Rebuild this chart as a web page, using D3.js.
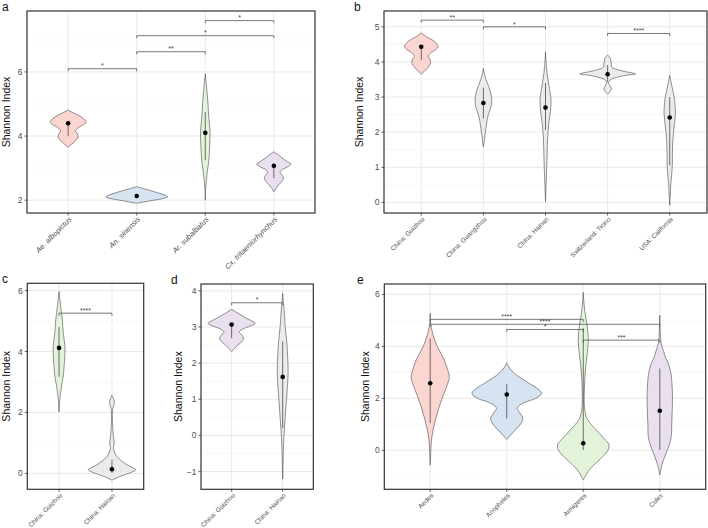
<!DOCTYPE html>
<html>
<head>
<meta charset="utf-8">
<script src="https://cdn.jsdelivr.net/npm/d3@7"></script>
<style>
  body { margin: 0; background: #fff; }
  svg { display: block; font-family: "Liberation Sans", Arial, sans-serif; }
</style>
</head>
<body>
<svg id="chart" width="708" height="528"></svg>
<script>
// ---- data ----
const PINK = "#fbd6d1", BLUE = "#d6e3f0", GREEN = "#e3f3da", PURPLE = "#e9dfee", GREY = "#ebebeb";

// panel a
const aGroups = ["Ae. albopictus", "An. sinensis", "Ar. subalbatus", "Cx. tritaeniorhynchus"];
const aMean = [4.40, 2.13, 4.10, 3.07];
const aLo = [4.00, 2.13, 3.25, 2.69];
const aHi = [4.40, 2.13, 4.75, 3.07];
const aViolins = [
  [[4.81,0],[4.72,0.08],[4.6,0.19],[4.5,0.245],[4.42,0.26],[4.35,0.22],[4.28,0.16],[4.17,0.11],[4.07,0.135],[3.98,0.146],[3.88,0.12],[3.78,0.07],[3.65,0]],
  [[2.42,0],[2.36,0.1],[2.3,0.2],[2.22,0.32],[2.15,0.42],[2.1,0.45],[2.05,0.38],[2.0,0.25],[1.95,0.12],[1.9,0]],
  [[5.94,0],[5.5,0.02],[5.0,0.04],[4.6,0.05],[4.2,0.068],[3.9,0.068],[3.5,0.06],[3.2,0.05],[2.9,0.03],[2.6,0.015],[2.3,0.005],[2.0,0]],
  [[3.51,0],[3.42,0.06],[3.3,0.13],[3.2,0.2],[3.12,0.25],[3.03,0.19],[2.94,0.11],[2.86,0.09],[2.78,0.12],[2.69,0.14],[2.6,0.12],[2.48,0.07],[2.37,0.03],[2.26,0]]
];
const aSig = [[0,1,6.1,"*"],[1,2,6.63,"**"],[1,3,7.13,"*"],[2,3,7.6,"*"]];
const aFill = [PINK, BLUE, GREEN, PURPLE];
const aTicks = [2, 4, 6];
const aMinor = [3, 5, 7];

// panel b
const bGroups = ["China: Guizhou", "China: Guangzhou", "China: Hainan", "Switzerland: Ticino", "USA: California"];
const bMean = [4.43, 2.83, 2.70, 3.65, 2.42];
const bLo = [4.05, 2.39, 2.06, 3.43, 1.06];
const bHi = [4.43, 3.27, 3.40, 3.91, 3.00];
const bViolins = [
  [[4.83,0],[4.72,0.08],[4.6,0.2],[4.5,0.255],[4.43,0.27],[4.35,0.23],[4.28,0.17],[4.17,0.11],[4.07,0.14],[3.97,0.15],[3.87,0.12],[3.77,0.07],[3.65,0]],
  [[3.82,0],[3.6,0.024],[3.4,0.064],[3.2,0.105],[3.0,0.129],[2.87,0.134],[2.7,0.12],[2.5,0.08],[2.3,0.056],[2.1,0.04],[1.9,0.024],[1.7,0.011],[1.58,0]],
  [[4.29,0],[4.0,0.008],[3.7,0.024],[3.4,0.048],[3.1,0.077],[2.9,0.089],[2.6,0.08],[2.3,0.056],[2.0,0.04],[1.6,0.029],[1.2,0.024],[0.8,0.016],[0.4,0.008],[0.02,0]],
  [[4.19,0],[4.14,0.035],[4.05,0.05],[3.95,0.06],[3.85,0.07],[3.78,0.16],[3.72,0.3],[3.66,0.45],[3.62,0.3],[3.56,0.14],[3.5,0.05],[3.44,0.02],[3.38,0.02],[3.3,0.045],[3.22,0.06],[3.14,0.03],[3.08,0]],
  [[3.62,0],[3.4,0.024],[3.2,0.048],[3.0,0.072],[2.7,0.089],[2.55,0.092],[2.3,0.08],[2.0,0.061],[1.7,0.048],[1.4,0.043],[1.1,0.043],[0.8,0.032],[0.5,0.016],[0.2,0.008],[-0.08,0]]
];
const bSig = [[0,1,5.19,"**"],[1,2,5.0,"*"],[3,4,4.81,"****"]];
const bFill = [PINK, GREY, GREY, GREY, GREY];
const bTicks = [0, 1, 2, 3, 4, 5];
const bMinor = [0.5, 1.5, 2.5, 3.5, 4.5];

// panel c
const cGroups = ["China: Guizhou", "China: Hainan"];
const cMean = [4.12, 0.14];
const cLo = [3.17, 0.02];
const cHi = [4.80, 0.45];
const cViolins = [
  [[5.97,0],[5.5,0.03],[5.0,0.065],[4.6,0.08],[4.2,0.11],[3.9,0.11],[3.5,0.095],[3.2,0.08],[2.9,0.05],[2.6,0.025],[2.3,0.008],[2.02,0]],
  [[2.57,0],[2.45,0.028],[2.32,0.046],[2.2,0.028],[2.05,0.009],[1.8,0.009],[1.5,0.015],[1.2,0.028],[1.0,0.042],[0.85,0.028],[0.7,0.047],[0.55,0.095],[0.4,0.19],[0.25,0.32],[0.12,0.45],[0.02,0.34],[-0.1,0.15],[-0.22,0]]
];
const cSig = [[0,1,5.26,"****"]];
const cFill = [GREEN, GREY];
const cTicks = [0, 2, 4, 6];
const cMinor = [1, 3, 5];

// panel d
const dGroups = ["China: Guizhou", "China: Hainan"];
const dMean = [3.07, 1.62];
const dLo = [2.69, 0.20];
const dHi = [3.07, 2.60];
const dViolins = [
  [[3.49,0],[3.4,0.1],[3.3,0.22],[3.2,0.35],[3.1,0.46],[3.02,0.35],[2.93,0.2],[2.86,0.15],[2.78,0.2],[2.69,0.235],[2.6,0.2],[2.5,0.12],[2.4,0.05],[2.32,0]],
  [[3.93,0],[3.6,0.02],[3.3,0.036],[3.0,0.05],[2.6,0.08],[2.2,0.097],[1.72,0.107],[1.3,0.09],[0.9,0.07],[0.5,0.05],[0.1,0.03],[-0.3,0.016],[-0.8,0.006],[-1.21,0]]
];
const dSig = [[0,1,3.67,"*"]];
const dFill = [PURPLE, GREY];
const dTicks = [-1, 0, 1, 2, 3, 4];
const dMinor = [-0.5, 0.5, 1.5, 2.5, 3.5];

// panel e
const eGroups = ["Aedes", "Anopheles", "Armigeres", "Culex"];
const eMean = [2.58, 2.15, 0.27, 1.52];
const eLo = [1.05, 1.23, 0.01, 0.01];
const eHi = [4.30, 2.54, 4.70, 3.15];
const eViolins = [
  [[5.27,0],[4.9,0.006],[4.5,0.032],[4.0,0.091],[3.5,0.18],[3.0,0.238],[2.8,0.25],[2.5,0.22],[2.0,0.156],[1.6,0.11],[1.2,0.071],[0.8,0.039],[0.4,0.016],[0.0,0.008],[-0.57,0]],
  [[3.37,0],[3.2,0.03],[2.96,0.1],[2.75,0.2],[2.58,0.29],[2.4,0.39],[2.19,0.455],[2.0,0.38],[1.85,0.24],[1.72,0.16],[1.61,0.136],[1.45,0.17],[1.23,0.21],[1.05,0.19],[0.9,0.15],[0.7,0.085],[0.55,0.04],[0.42,0]],
  [[6.08,0],[5.7,0.008],[5.3,0.023],[4.9,0.045],[4.5,0.062],[4.2,0.065],[3.8,0.055],[3.4,0.039],[3.0,0.026],[2.6,0.017],[2.2,0.013],[1.8,0.013],[1.5,0.023],[1.2,0.052],[0.95,0.117],[0.7,0.195],[0.45,0.273],[0.2,0.338],[-0.05,0.312],[-0.3,0.234],[-0.55,0.143],[-0.8,0.065],[-1.0,0.026],[-1.14,0]],
  [[5.2,0],[4.6,0.006],[4.1,0.019],[3.8,0.052],[3.6,0.071],[3.3,0.117],[2.9,0.149],[2.4,0.162],[2.0,0.166],[1.5,0.162],[1.0,0.156],[0.5,0.149],[0.2,0.123],[-0.1,0.084],[-0.4,0.045],[-0.7,0.016],[-0.95,0]]
];
const eSig = [[0,2,5.04,"****"],[0,3,4.85,"****"],[1,2,4.65,"*"],[2,3,4.24,"***"]];
const eFill = [PINK, BLUE, GREEN, PURPLE];
const eTicks = [0, 2, 4, 6];
const eMinor = [-1, 1, 3, 5];

const svg = d3.select("#chart");

function drawPanel(p) {
  const g = svg.append("g");
  const x = d3.scalePoint().domain(p.groups).range([p.left, p.right]).padding(0.6);
  const y = d3.scaleLinear().domain(p.ydom).range([p.bottom, p.top]);
  const step = x.step();

  // grid
  g.selectAll("line.minor").data(p.minor).join("line")
    .attr("x1", p.left).attr("x2", p.right)
    .attr("y1", d => y(d)).attr("y2", d => y(d))
    .attr("stroke", "#f3f3f3").attr("stroke-width", 0.6);
  g.selectAll("line.major").data(p.ticks).join("line")
    .attr("x1", p.left).attr("x2", p.right)
    .attr("y1", d => y(d)).attr("y2", d => y(d))
    .attr("stroke", "#e6e6e6").attr("stroke-width", 0.9);
  g.selectAll("line.vgrid").data(p.groups).join("line")
    .attr("x1", d => x(d)).attr("x2", d => x(d))
    .attr("y1", p.top).attr("y2", p.bottom)
    .attr("stroke", "#e6e6e6").attr("stroke-width", 0.9);

  // violins
  p.violins.forEach((prof, i) => {
    const cx = x(p.groups[i]);
    const area = d3.area()
      .curve(d3.curveCatmullRom.alpha(0.5))
      .y(d => y(d[0]))
      .x0(d => cx - d[1] * step)
      .x1(d => cx + d[1] * step);
    g.append("path").datum(prof)
      .attr("d", area)
      .attr("fill", p.fill[i])
      .attr("stroke", "#3a3a3a").attr("stroke-width", 0.55);
  });

  // mean point + range line
  p.groups.forEach((name, i) => {
    const cx = x(name);
    g.append("line")
      .attr("x1", cx).attr("x2", cx)
      .attr("y1", y(p.lo[i])).attr("y2", y(p.hi[i]))
      .attr("stroke", "#333").attr("stroke-width", 0.7);
    g.append("circle")
      .attr("cx", cx).attr("cy", y(p.mean[i])).attr("r", 2.3)
      .attr("fill", "#000");
  });

  // significance brackets
  const tip = 2.5;
  p.sig.forEach(([i, j, v, lab]) => {
    const x1 = x(p.groups[i]), x2 = x(p.groups[j]), yy = y(v);
    g.append("path")
      .attr("d", `M${x1},${yy + tip}V${yy}H${x2}V${yy + tip}`)
      .attr("fill", "none").attr("stroke", "#555").attr("stroke-width", 0.8);
    g.append("text")
      .attr("x", (x1 + x2) / 2).attr("y", yy - 0.3)
      .attr("text-anchor", "middle")
      .attr("font-size", 7).attr("fill", "#444")
      .text(lab);
  });

  // border
  g.append("rect")
    .attr("x", p.left).attr("y", p.top)
    .attr("width", p.right - p.left).attr("height", p.bottom - p.top)
    .attr("fill", "none").attr("stroke", "#333").attr("stroke-width", 1.2);

  // y axis ticks + labels
  p.ticks.forEach(t => {
    g.append("line")
      .attr("x1", p.left - 2.5).attr("x2", p.left)
      .attr("y1", y(t)).attr("y2", y(t))
      .attr("stroke", "#333").attr("stroke-width", 0.8);
    g.append("text")
      .attr("x", p.left - 4.5).attr("y", y(t)).attr("dy", "0.35em")
      .attr("text-anchor", "end")
      .attr("font-size", 8.5).attr("fill", "#4d4d4d")
      .text(t < 0 ? "\u2212" + Math.abs(t) : t);
  });

  // x tick labels
  p.groups.forEach(name => {
    const cx = x(name);
    g.append("line")
      .attr("x1", cx).attr("x2", cx)
      .attr("y1", p.bottom).attr("y2", p.bottom + 2.5)
      .attr("stroke", "#333").attr("stroke-width", 0.8);
    g.append("text")
      .attr("transform", `translate(${cx + 2},${p.bottom + 5}) rotate(-45)`)
      .attr("text-anchor", "end").attr("dy", "0.35em")
      .attr("font-size", p.xfont).attr("fill", "#4d4d4d")
      .attr("font-style", p.italic ? "italic" : "normal")
      .text(name);
  });

  // y title
  g.append("text")
    .attr("transform", `translate(${p.titleX},${(p.top + p.bottom) / 2}) rotate(-90)`)
    .attr("text-anchor", "middle")
    .attr("font-size", 10.5).attr("fill", "#111")
    .text("Shannon Index");

  // panel letter
  g.append("text")
    .attr("x", p.letterX).attr("y", p.letterY)
    .attr("font-size", 12).attr("fill", "#111")
    .text(p.letter);
}

drawPanel({letter: "a", letterX: 2, letterY: 11, titleX: 10,
  left: 27, right: 315, top: 11, bottom: 213, ydom: [1.6, 7.9],
  groups: aGroups, mean: aMean, lo: aLo, hi: aHi, violins: aViolins, sig: aSig,
  fill: aFill, ticks: aTicks, minor: aMinor, xfont: 7.5, italic: true});

drawPanel({letter: "b", letterX: 354, letterY: 11, titleX: 363,
  left: 384, right: 707, top: 11, bottom: 213, ydom: [-0.3, 5.45],
  groups: bGroups, mean: bMean, lo: bLo, hi: bHi, violins: bViolins, sig: bSig,
  fill: bFill, ticks: bTicks, minor: bMinor, xfont: 6.5, italic: false});

drawPanel({letter: "c", letterX: 2, letterY: 283, titleX: 10,
  left: 27.3, right: 143.7, top: 283.3, bottom: 489.3, ydom: [-0.52, 6.24],
  groups: cGroups, mean: cMean, lo: cLo, hi: cHi, violins: cViolins, sig: cSig,
  fill: cFill, ticks: cTicks, minor: cMinor, xfont: 6.5, italic: false});

drawPanel({letter: "d", letterX: 171, letterY: 284, titleX: 182,
  left: 201, right: 313.3, top: 284, bottom: 489.3, ydom: [-1.49, 4.19],
  groups: dGroups, mean: dMean, lo: dLo, hi: dHi, violins: dViolins, sig: dSig,
  fill: dFill, ticks: dTicks, minor: dMinor, xfont: 6.5, italic: false});

drawPanel({letter: "e", letterX: 357, letterY: 284, titleX: 369,
  left: 384.3, right: 705.7, top: 284, bottom: 489.3, ydom: [-1.5, 6.4],
  groups: eGroups, mean: eMean, lo: eLo, hi: eHi, violins: eViolins, sig: eSig,
  fill: eFill, ticks: eTicks, minor: eMinor, xfont: 6.5, italic: false});
</script>
</body>
</html>
